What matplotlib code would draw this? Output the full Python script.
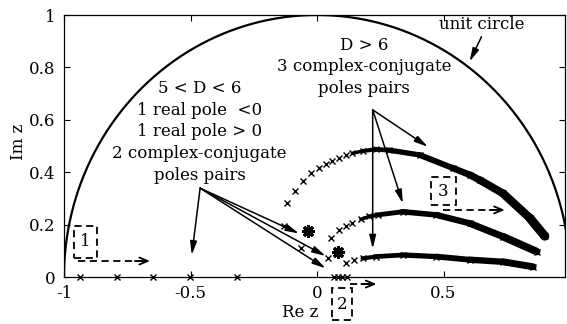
import numpy as np
import matplotlib
matplotlib.use("Agg")
import matplotlib.pyplot as plt
from matplotlib.collections import LineCollection
from matplotlib.patches import Rectangle

plt.rcParams['font.family'] = ['DejaVu Serif']

# ---- pole locations read in the z-plane ----
# real poles on the negative axis (5 < D < 6)
neg_real_re = [-0.938, -0.792, -0.647, -0.501, -0.316]
# real poles just right of the origin
pos_real_re = [0.067, 0.083, 0.100, 0.118]

# isolated complex poles for 5 < D < 6
mid_re = [-0.131, -0.065, 0.045]
mid_im = [0.196, 0.110, 0.072]
# clustered complex poles for 5 < D < 6
clus_re = [-0.035, 0.081]
clus_im = [0.176, 0.094]

# three complex-conjugate branches for D > 6 (sparse start, dense tail)
up_sparse_re = [-0.118, -0.087, -0.056, -0.022, 0.008, 0.037, 0.061, 0.087, 0.114]
up_sparse_im = [0.281, 0.329, 0.368, 0.396, 0.415, 0.430, 0.444, 0.455, 0.464]
up_dense_re = [0.140, 0.180, 0.233, 0.286, 0.405, 0.536, 0.603, 0.643, 0.735, 0.841, 0.900]
up_dense_im = [0.472, 0.481, 0.487, 0.484, 0.466, 0.416, 0.390, 0.370, 0.319, 0.225, 0.156]

md_sparse_re = [0.054, 0.085, 0.114, 0.140]
md_sparse_im = [0.148, 0.179, 0.195, 0.207]
md_dense_re = [0.173, 0.206, 0.239, 0.339, 0.471, 0.603, 0.735, 0.868]
md_dense_im = [0.220, 0.231, 0.237, 0.249, 0.237, 0.205, 0.154, 0.097]

lo_sparse_re = [0.116, 0.147]
lo_sparse_im = [0.052, 0.065]
lo_dense_re = [0.180, 0.233, 0.339, 0.471, 0.603, 0.735, 0.854]
lo_dense_im = [0.071, 0.078, 0.084, 0.078, 0.066, 0.058, 0.039]

x_ticks = [-1, -0.5, 0, 0.5]
x_tick_labels = ['-1', '-0.5', '0', '0.5']
y_ticks = [0, 0.2, 0.4, 0.6, 0.8, 1]
y_tick_labels = ['0', '0.2', '0.4', '0.6', '0.8', '1']

FS = 12

fig = plt.figure(figsize=(5.67, 3.24), dpi=100)
ax = fig.add_axes([64 / 567, 47 / 324, 501 / 567, 262 / 324])
ax.set_xlim(-1, 0.98)
ax.set_ylim(0, 1)

# unit circle (upper half)
th = np.linspace(0, np.pi, 400)
ax.plot(np.cos(th), np.sin(th), color='black', lw=1.6)

mk = dict(marker='x', color='black', ls='none', ms=4.5, mew=1.0)
ax.plot(neg_real_re, np.zeros(len(neg_real_re)), clip_on=False, **mk)
ax.plot(pos_real_re, np.zeros(len(pos_real_re)), clip_on=False, **mk)
ax.plot(mid_re, mid_im, **mk)
ax.plot(clus_re, clus_im, marker=(8, 2, 0), color='black', ls='none', ms=9, mew=2.2)
ax.plot(clus_re, clus_im, marker='s', color='black', ls='none', ms=4)


def branch(sre, sim, dre, dim, w0, w1):
    ax.plot(sre, sim, **mk)
    ax.plot(dre, dim, **mk)
    pts = np.column_stack([dre, dim])
    segs = np.stack([pts[:-1], pts[1:]], axis=1)
    widths = np.linspace(w0, w1, len(segs))
    ax.add_collection(LineCollection(segs, linewidths=widths, colors='black',
                                     capstyle='round', joinstyle='round'))


branch(up_sparse_re, up_sparse_im, up_dense_re, up_dense_im, 2.5, 6.5)
branch(md_sparse_re, md_sparse_im, md_dense_re, md_dense_im, 2.5, 5.5)
branch(lo_sparse_re, lo_sparse_im, lo_dense_re, lo_dense_im, 3.0, 5.0)

# ---- annotation texts ----
ax.text(0.65, 0.962, 'unit circle', ha='center', va='center', fontsize=FS)
ax.text(0.187, 0.885, 'D > 6', ha='center', va='center', fontsize=FS)
ax.text(0.187, 0.803, '3 complex-conjugate', ha='center', va='center', fontsize=FS)
ax.text(0.187, 0.720, 'poles pairs', ha='center', va='center', fontsize=FS)

left_block = ['5 < D < 6', '1 real pole  <0', '1 real pole > 0',
              '2 complex-conjugate', 'poles pairs']
left_y = [0.720, 0.637, 0.555, 0.472, 0.386]
for s, yy in zip(left_block, left_y):
    ax.text(-0.464, yy, s, ha='center', va='center', fontsize=FS)

arr = dict(arrowstyle='-|>,head_length=0.8,head_width=0.2', color='black',
           lw=1.1, shrinkA=0, shrinkB=0)

# unit circle pointer
ax.annotate('', xy=(0.603, 0.822), xytext=(0.65, 0.917), arrowprops=arr)

# 5 < D < 6 pointers
src_a = (-0.462, 0.339)
for tip in [(-0.495, 0.084), (-0.071, 0.166), (0.034, 0.080), (0.034, 0.033)]:
    ax.annotate('', xy=tip, xytext=src_a, arrowprops=arr)

# D > 6 pointers
src_b = (0.22, 0.638)
for tip in [(0.22, 0.108), (0.339, 0.281), (0.438, 0.497)]:
    ax.annotate('', xy=tip, xytext=src_b, arrowprops=arr)

# ---- zoom-region boxes with dashed pointers ----
box = dict(fill=False, ls=(0, (4, 2.5)), lw=1.3, ec='black', clip_on=False)
ax.add_patch(Rectangle((-0.960, 0.071), 0.091, 0.125, **box))
ax.text(-0.915, 0.134, '1', ha='center', va='center', fontsize=FS)
ax.add_patch(Rectangle((0.061, -0.164), 0.079, 0.121, **box))
ax.text(0.100, -0.106, '2', ha='center', va='center', fontsize=FS, clip_on=False)
ax.add_patch(Rectangle((0.451, 0.275), 0.099, 0.108, **box))
ax.text(0.500, 0.328, '3', ha='center', va='center', fontsize=FS)

dash = dict(color='black', lw=1.3, ls=(0, (4, 2.5)), clip_on=False)
darr = dict(arrowstyle='->,head_length=0.6,head_width=0.25', color='black',
            lw=1.3, shrinkA=0, shrinkB=0)
for x0, x1, yy in [(-0.944, -0.66, 0.061), (0.13, 0.235, -0.027), (0.497, 0.742, 0.256)]:
    ax.plot([x0, x1 - 0.03], [yy, yy], **dash)
    ax.annotate('', xy=(x1, yy), xytext=(x1 - 0.06, yy), arrowprops=darr,
                annotation_clip=False)

# ---- axes styling ----
ax.set_xticks(x_ticks)
ax.set_xticklabels(x_tick_labels)
ax.set_yticks(y_ticks)
ax.set_yticklabels(y_tick_labels)
ax.tick_params(direction='in', length=4, width=0.8, top=True, right=True,
               labelsize=FS, pad=6)
for sp in ax.spines.values():
    sp.set_linewidth(0.9)
ax.set_xlabel('Re z', fontsize=FS)
ax.xaxis.set_label_coords((300 - 64) / 501, -(304 - 277) / 262)
ax.set_ylabel('Im z', fontsize=FS)
ax.yaxis.set_label_coords(-(64 - 27) / 501, (277 - 142) / 262)

fig.savefig('out.png', dpi=100)
